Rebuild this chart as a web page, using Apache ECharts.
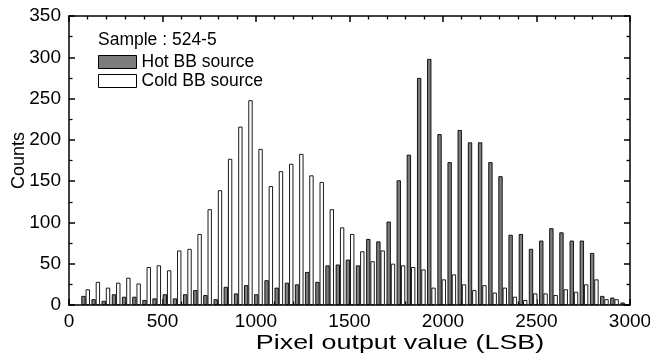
<!DOCTYPE html>
<html>
<head>
<meta charset="utf-8">
<script src="https://cdn.jsdelivr.net/npm/echarts@6/dist/echarts.min.js"></script>
<style>
  html, body { margin: 0; padding: 0; background: #fff; }
  #chart { width: 650px; height: 355px; }
</style>
</head>
<body>
<div id="chart"></div>
<script>
// Histogram bin centres (pixel output value, LSB)
const binCenters = [
  89, 143, 197, 252, 306, 361, 415, 469, 524, 578,
  633, 687, 741, 796, 850, 905, 959, 1013, 1068, 1122,
  1177, 1231, 1285, 1340, 1394, 1449, 1503, 1557, 1612, 1666,
  1721, 1775, 1829, 1884, 1938, 1993, 2047, 2101, 2156, 2210,
  2265, 2319, 2373, 2428, 2482, 2537, 2591, 2645, 2700, 2754,
  2809, 2863, 2917, 2972
];

// Counts per bin, hot blackbody source
const hotCounts = [
  11, 7, 5, 13, 10, 10, 6, 8, 13, 8,
  13, 18, 12, 7, 22, 14, 24, 13, 30, 21,
  27, 25, 40, 28, 48, 49, 55, 48, 80, 77,
  101, 151, 182, 275, 298, 207, 173, 212, 197, 197,
  173, 156, 85, 86, 68, 78, 93, 88, 78, 78,
  63, 11, 9, 3
];

// Counts per bin, cold blackbody source
const coldCounts = [
  19, 28, 21, 27, 33, 26, 46, 48, 42, 66,
  68, 86, 116, 139, 177, 216, 248, 189, 144, 162,
  171, 183, 157, 149, 116, 94, 86, 65, 53, 66,
  50, 48, 46, 43, 21, 31, 37, 25, 18, 24,
  15, 21, 10, 6, 14, 14, 12, 19, 16, 25,
  31, 7, 7, 0
];

const sampleLabel = 'Sample : 524-5';
const seriesNames = ['Hot BB source', 'Cold BB source'];
const xTitle = 'Pixel output value (LSB)';
const yTitle = 'Counts';

const FONT = '"Liberation Sans", Arial, sans-serif';
const PLOT = { left: 69, right: 20, top: 16, bottom: 50, outerBoundsMode: 'none' };
const X_RANGE = { min: 0, max: 3000, interval: 500 };
const Y_RANGE = { min: 0, max: 350, interval: 50 };

// Frame axis with inward major and minor ticks (lives on its own overlay grid)
function frameAxis(extra, minorSplit) {
  return Object.assign({
    type: 'value',
    gridIndex: 1,
    axisLine: { show: true, onZero: false, lineStyle: { color: '#000', width: 1.5 } },
    axisTick: { show: true, inside: true, length: 6, lineStyle: { color: '#000', width: 1.5 } },
    minorTick: { show: true, splitNumber: minorSplit, length: 3.5, lineStyle: { color: '#000', width: 1.3 } },
    splitLine: { show: false },
    axisLabel: { show: false }
  }, extra);
}

const plainNumber = v => String(v);

const chart = echarts.init(document.getElementById('chart'), null, { renderer: 'canvas' });

chart.setOption({
  animation: false,
  backgroundColor: '#fff',
  textStyle: { fontFamily: FONT },
  // grid 0 carries the bars, grid 1 (same rectangle) carries the boxed frame
  grid: [Object.assign({}, PLOT), Object.assign({}, PLOT)],
  graphic: [
    {
      type: 'text',
      left: 98,
      top: 31,
      z: 10,
      style: { text: sampleLabel, font: '17.5px ' + FONT, fill: '#000' }
    },
    {
      type: 'text',
      x: 400,
      y: 343,
      scaleX: 1.28,
      z: 10,
      style: { text: xTitle, font: '21px ' + FONT, fill: '#000', align: 'center', verticalAlign: 'middle' }
    }
  ],
  legend: {
    orient: 'vertical',
    left: 98,
    top: 53,
    padding: 0,
    icon: 'rect',
    itemWidth: 38,
    itemHeight: 13,
    itemGap: 1,
    textStyle: { fontSize: 17.5, color: '#000', fontFamily: FONT },
    data: [
      { name: seriesNames[0], itemStyle: { color: '#7d7d7d', borderColor: '#000', borderWidth: 1 } },
      { name: seriesNames[1], itemStyle: { color: '#fff', borderColor: '#000', borderWidth: 1 } }
    ]
  },
  xAxis: [
    Object.assign({ type: 'value', gridIndex: 0, show: false }, X_RANGE),
    frameAxis(Object.assign({
      position: 'bottom',
      axisLabel: { show: true, fontSize: 19, color: '#000', margin: 7, fontFamily: FONT, formatter: plainNumber }
    }, X_RANGE), 5),
    frameAxis(Object.assign({ position: 'top' }, X_RANGE), 5)
  ],
  yAxis: [
    Object.assign({ type: 'value', gridIndex: 0, show: false }, Y_RANGE),
    frameAxis(Object.assign({
      position: 'left',
      axisLabel: { show: true, fontSize: 19, color: '#000', margin: 8, fontFamily: FONT, formatter: plainNumber },
      name: yTitle,
      nameLocation: 'middle',
      nameRotate: 90,
      nameGap: 41,
      nameMoveOverlap: false,
      nameTextStyle: { fontSize: 18, color: '#000', fontFamily: FONT }
    }, Y_RANGE), 2),
    frameAxis(Object.assign({ position: 'right' }, Y_RANGE), 2)
  ],
  series: [
    {
      name: seriesNames[0],
      type: 'bar',
      xAxisIndex: 0,
      yAxisIndex: 0,
      barWidth: 4.3,
      barGap: '0%',
      itemStyle: { color: '#7d7d7d', borderColor: '#000', borderWidth: 0.9 },
      data: binCenters.map((c, i) => [c, hotCounts[i]])
    },
    {
      name: seriesNames[1],
      type: 'bar',
      xAxisIndex: 0,
      yAxisIndex: 0,
      barWidth: 4.3,
      barGap: '0%',
      itemStyle: { color: '#fff', borderColor: '#000', borderWidth: 0.9 },
      data: binCenters.map((c, i) => [c, coldCounts[i]])
    }
  ]
});
</script>
</body>
</html>
